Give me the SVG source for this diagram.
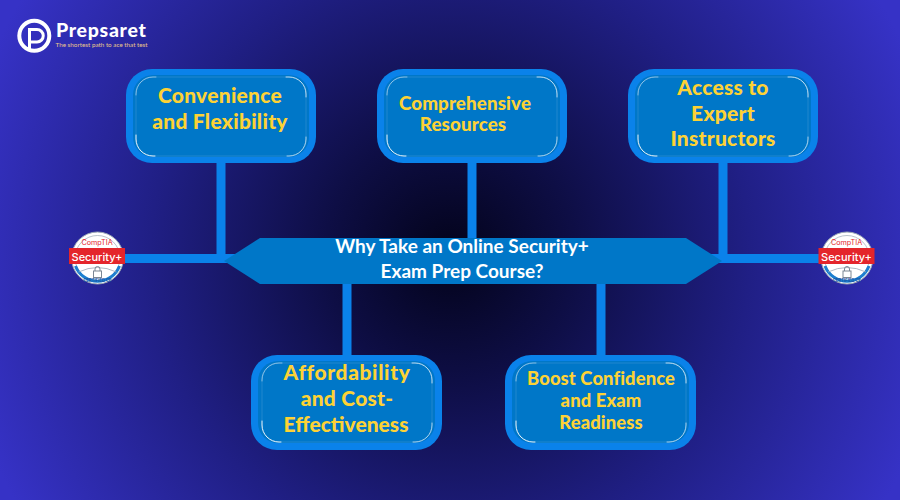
<svg xmlns="http://www.w3.org/2000/svg" width="900" height="500" viewBox="0 0 900 500">
<style>
.o{fill:#0a82ea}.i{fill:#0077c8}
.h{fill:none;stroke:#fff;stroke-width:.9;stroke-linecap:round}
.f{fill:none;stroke:#fff;stroke-width:.6;opacity:.22}
.c{stroke:#0a82ea;stroke-width:9;fill:none}
.t{font-family:"Lato","Liberation Sans",sans-serif;font-weight:900;fill:#fdd235;text-anchor:middle}
.a{font-size:21px;letter-spacing:.25px}.z{font-size:18.800px;letter-spacing:.1px}.y{font-size:18.400px;letter-spacing:.1px}
.m{font-family:"Lato","Liberation Sans",sans-serif;font-weight:700;font-size:19px;fill:#fff;text-anchor:middle}
.b{fill:#fff;stroke:#9aa7b5;stroke-width:1}
.r{fill:#e4252b}.s{font-family:"Inter","Liberation Sans",sans-serif;fill:#fff;font-size:11px;font-weight:500;text-anchor:middle}
.ct{font-family:"Inter","Liberation Sans",sans-serif;fill:#e4252b;font-size:7.200px;text-anchor:middle}
.cd{font-family:"Inter","Liberation Sans",sans-serif;fill:#1b4fa0;font-size:4.200px;font-weight:700;text-anchor:middle}
</style>
<defs>
<radialGradient id="bg" gradientUnits="userSpaceOnUse" cx="450" cy="255" r="500">
<stop offset="0" stop-color="#03031a"/><stop offset=".25" stop-color="#0e0e45"/><stop offset=".6" stop-color="#201f85"/><stop offset="1" stop-color="#3632c6"/>
</radialGradient>
<g id="hl">
<rect class="f" width="170" height="79" rx="17"/>
<path class="h" opacity=".55" d="M0 18V17A17 17 0 0 1 17 0H20"/>
<path class="h" opacity=".8" d="M150 0H153A17 17 0 0 1 170 17V20"/>
<path class="h" opacity=".7" d="M170 60V62A17 17 0 0 1 153 79H151"/>
<path class="h" d="M19 79H17A17 17 0 0 1 0 62V58"/>
</g>
<g id="badge">
<circle r="26" class="b"/>
<circle r="22.500" fill="none" stroke="#9aa7b5" stroke-width=".7"/>
<path d="M-22 8A23.500 23.500 0 0 0 22 8" fill="none" stroke="#1c7fd0" stroke-width="3"/>
<path d="M-19 14Q0 5 19 14" fill="none" stroke="#9aa7b5" stroke-width=".8"/>
<rect x="-28.500" y="-10" width="56" height="16" class="r"/>
<text class="ct" x="-.5" y="-13">CompTIA</text>
<text class="s" x="-.5" y="2.500">Security+</text>
<rect x="-4" y="13" width="8" height="6.500" fill="none" stroke="#7c8794" stroke-width="1"/>
<path d="M-2.500 13V11a2.500 2.500 0 0 1 5 0V13" fill="none" stroke="#7c8794" stroke-width="1"/>
<text class="cd" y="24.200">CERTIFIED CE</text>
</g>
</defs>
<rect id="background" width="900" height="500" fill="url(#bg)"/>
<g id="connectors">
<path class="c" d="M221 160V258M472 160V240M723 160V258M347 282V358M601 282V358M125 258.500H240M705 258.500H822"/>
</g>
<g id="center">
<polygon class="i" points="224,261 260,238 686,238 722,261 686,284 260,284"/>
<text class="m" x="462" y="253">Why Take an Online Security+</text>
<text class="m" x="462" y="278">Exam Prep Course?</text>
</g>
<g id="node1">
<rect class="o" x="126" y="69" width="190" height="94" rx="26"/>
<rect class="i" x="133" y="75" width="176" height="82" rx="20"/>
<use href="#hl" x="136" y="77"/>
<text class="t a" x="220" y="103">Convenience</text>
<text class="t a" x="220" y="129">and Flexibility</text>
</g>
<g id="node2">
<rect class="o" x="377" y="69" width="190" height="94" rx="26"/>
<rect class="i" x="384" y="75" width="176" height="82" rx="20"/>
<use href="#hl" x="387" y="77"/>
<text class="t z" x="465" y="110">Comprehensive</text>
<text class="t z" x="463" y="131">Resources</text>
</g>
<g id="node3">
<rect class="o" x="628" y="69" width="190" height="94" rx="26"/>
<rect class="i" x="635" y="75" width="176" height="82" rx="20"/>
<use href="#hl" x="638" y="77"/>
<text class="t a" x="723" y="95">Access to</text>
<text class="t a" x="723" y="121">Expert</text>
<text class="t a" x="723" y="146">Instructors</text>
</g>
<g id="node4">
<rect class="o" x="251" y="355" width="191" height="95" rx="26"/>
<rect class="i" x="258" y="361" width="177" height="82" rx="20"/>
<use href="#hl" x="262" y="363"/>
<text class="t a" x="347" y="380" style="letter-spacing:.6px">Affordability</text>
<text class="t a" x="347" y="406">and Cost-</text>
<text class="t a" x="346" y="432" style="letter-spacing:0">Effectiveness</text>
</g>
<g id="node5">
<rect class="o" x="505" y="355" width="191" height="95" rx="26"/>
<rect class="i" x="512" y="361" width="177" height="82" rx="20"/>
<use href="#hl" x="516" y="363"/>
<text class="t y" x="601" y="385">Boost Confidence</text>
<text class="t y" x="601" y="407">and Exam</text>
<text class="t y" x="601" y="429">Readiness</text>
</g>
<g id="badge-left"><use href="#badge" x="97.500" y="258"/></g>
<g id="badge-right"><use href="#badge" x="847" y="258"/></g>
<g id="logo">
<circle cx="34.300" cy="35.700" r="15" fill="none" stroke="#fff" stroke-width="4"/>
<path d="M29.500 49V29.500H37a6 6 0 0 1 0 12.500H29.500" fill="none" stroke="#fff" stroke-width="3"/>
<text x="56" y="37" font-family="Lato,'Liberation Sans',sans-serif" font-weight="900" font-size="19.500" letter-spacing=".7" fill="#fff">Prepsaret</text>
<text x="55.500" y="47" font-family="Lato,'Liberation Sans',sans-serif" font-size="6.300" fill="#e8c88a">The shortest path to ace that test</text>
</g>
</svg>
